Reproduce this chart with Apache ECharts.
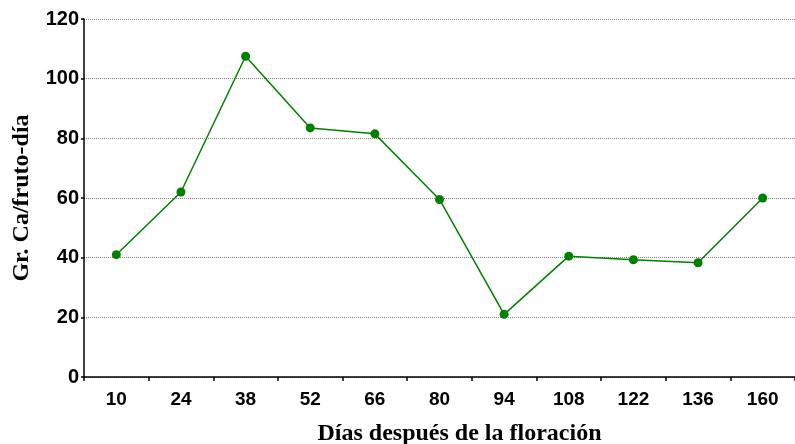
<!DOCTYPE html>
<html><head><meta charset="utf-8">
<script src="https://cdn.jsdelivr.net/npm/echarts@6/dist/echarts.min.js"></script>
<style>html,body{margin:0;padding:0;background:#fff}#c{width:795px;height:444px}</style>
</head><body><div id="c"></div>
<script>
const categories = ['10','24','38','52','66','80','94','108','122','136','160'];
const values = [41, 62, 107.5, 83.5, 81.5, 59.5, 21, 40.5, 39.3, 38.3, 60];
const yTitle = 'Gr. Ca/fruto-día';
const xTitle = 'Días después de la floración';

const chart = echarts.init(document.getElementById('c'), null, {renderer:'canvas'});
chart.setOption({
  animation: false,
  backgroundColor: '#fff',
  grid: {left: 84, right: 0, top: 19, bottom: 67, containLabel: false, outerBoundsMode: 'none'},
  xAxis: {
    type: 'category', data: categories, boundaryGap: true,
    name: xTitle, nameLocation: 'middle', nameGap: 45,
    nameTextStyle: {fontFamily: 'Liberation Serif', fontWeight: 'bold', fontSize: 24, color: '#000', padding: [0, 0, 0, 40]},
    axisLine: {lineStyle: {color: '#000', width: 1.5}},
    axisTick: {show: true, length: 4, lineStyle: {color: '#000', width: 1.5}},
    axisLabel: {fontFamily: 'Liberation Sans', fontWeight: 'bold', fontSize: 19, color: '#000', margin: 13},
    splitLine: {show: false}
  },
  yAxis: {
    type: 'value', min: 0, max: 120, interval: 20,
    name: yTitle, nameLocation: 'middle', nameGap: 50,
    nameTextStyle: {fontFamily: 'Liberation Serif', fontWeight: 'bold', fontSize: 24, color: '#000'},
    axisLine: {show: true, lineStyle: {color: '#000', width: 1.5}},
    axisTick: {show: true, length: 3, lineStyle: {color: '#000', width: 1.5}},
    axisLabel: {fontFamily: 'Liberation Sans', fontWeight: 'bold', fontSize: 20, color: '#000', margin: 5},
    splitLine: {show: true, lineStyle: {color: '#808080', type: [1, 1], width: 1}}
  },
  series: [{
    type: 'line', data: values,
    symbol: 'circle', symbolSize: 9,
    lineStyle: {color: '#008000', width: 1.5},
    itemStyle: {color: '#008000'}
  }]
});
</script></body></html>
